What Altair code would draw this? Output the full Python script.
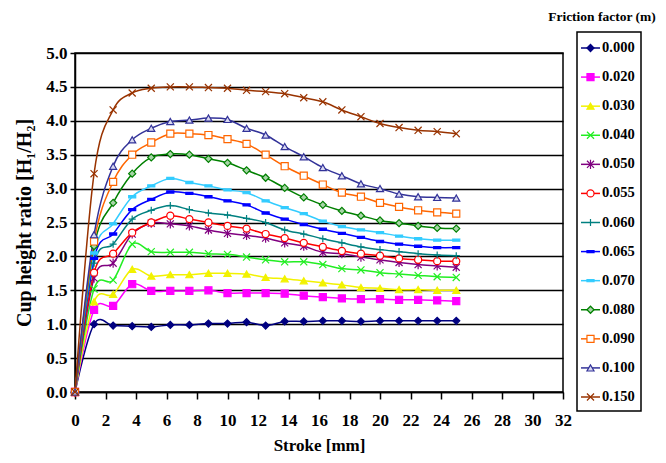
import altair as alt
import pandas as pd

stroke_mm = [0, 1.25, 2.5, 3.75, 5, 6.25, 7.5, 8.75, 10, 11.25, 12.5,
             13.75, 15, 16.25, 17.5, 18.75, 20, 21.25, 22.5, 23.75, 25]

friction = ["0.000", "0.020", "0.030", "0.040", "0.050", "0.055", "0.060",
            "0.065", "0.070", "0.080", "0.090", "0.100", "0.150"]

r_000 = [0, 1.00, 0.98, 0.97, 0.96, 0.99, 0.99, 1.01, 1.01, 1.03, 0.98,
         1.04, 1.04, 1.05, 1.05, 1.04, 1.05, 1.05, 1.05, 1.05, 1.05]
r_020 = [0, 1.21, 1.27, 1.59, 1.49, 1.49, 1.49, 1.50, 1.46, 1.46, 1.46,
         1.45, 1.42, 1.40, 1.38, 1.37, 1.37, 1.36, 1.36, 1.35, 1.34]
r_030 = [0, 1.33, 1.44, 1.81, 1.71, 1.73, 1.73, 1.75, 1.75, 1.74, 1.69,
         1.67, 1.64, 1.61, 1.58, 1.54, 1.53, 1.51, 1.51, 1.50, 1.50]
r_040 = [0, 1.52, 1.65, 2.18, 2.07, 2.06, 2.06, 2.04, 2.03, 1.99, 1.95,
         1.92, 1.92, 1.88, 1.82, 1.80, 1.76, 1.74, 1.72, 1.70, 1.69]
r_050 = [0, 1.68, 1.90, 2.33, 2.49, 2.48, 2.45, 2.39, 2.34, 2.31, 2.27,
         2.20, 2.15, 2.06, 2.04, 1.99, 1.95, 1.91, 1.88, 1.86, 1.84]
r_055 = [0, 1.76, 2.04, 2.35, 2.50, 2.60, 2.55, 2.50, 2.45, 2.41, 2.33,
         2.27, 2.20, 2.14, 2.08, 2.04, 2.01, 1.97, 1.95, 1.93, 1.93]
r_060 = [0, 1.90, 2.18, 2.55, 2.68, 2.75, 2.69, 2.64, 2.61, 2.56, 2.50,
         2.39, 2.33, 2.26, 2.20, 2.14, 2.10, 2.07, 2.04, 2.02, 2.01]
r_065 = [0, 1.97, 2.33, 2.69, 2.84, 2.95, 2.93, 2.88, 2.82, 2.76, 2.64,
         2.55, 2.47, 2.40, 2.34, 2.28, 2.22, 2.18, 2.15, 2.13, 2.13]
r_070 = [0, 2.05, 2.48, 2.88, 3.04, 3.15, 3.09, 3.04, 2.98, 2.94, 2.82,
         2.72, 2.63, 2.52, 2.44, 2.39, 2.35, 2.30, 2.26, 2.24, 2.24]
r_080 = [0, 2.15, 2.79, 3.22, 3.46, 3.51, 3.50, 3.44, 3.38, 3.27, 3.16,
         3.01, 2.87, 2.76, 2.67, 2.60, 2.53, 2.49, 2.45, 2.42, 2.41]
r_090 = [0, 2.22, 3.10, 3.50, 3.68, 3.81, 3.81, 3.79, 3.73, 3.66, 3.50,
         3.33, 3.19, 3.06, 2.94, 2.88, 2.79, 2.73, 2.68, 2.65, 2.63]
r_100 = [0, 2.32, 3.33, 3.72, 3.89, 3.99, 4.01, 4.04, 4.02, 3.89, 3.79,
         3.62, 3.47, 3.31, 3.19, 3.07, 3.00, 2.92, 2.88, 2.87, 2.86]
r_150 = [0, 3.22, 4.16, 4.41, 4.48, 4.50, 4.50, 4.49, 4.48, 4.45, 4.43,
         4.40, 4.34, 4.28, 4.16, 4.06, 3.96, 3.90, 3.86, 3.84, 3.81]

series = [r_000, r_020, r_030, r_040, r_050, r_055, r_060,
          r_065, r_070, r_080, r_090, r_100, r_150]

x_ticks = list(range(0, 33, 2))
y_ticks = [0, 0.5, 1.0, 1.5, 2.0, 2.5, 3.0, 3.5, 4.0, 4.5, 5.0]

line_colors = ["#000080", "#FF00FF", "#F2F200", "#22EE22", "#800080", "#FF0000",
               "#008080", "#0000FF", "#33CCFF", "#008000", "#FF6600", "#333399",
               "#993300"]
X_PATH = "M-1,-1L1,1M-1,1L1,-1"
STAR_PATH = "M-1,-1L1,1M-1,1L1,-1M0,-1.3L0,1.3"
PLUS_PATH = "M-1,0L1,0M0,-1L0,1"
DASH_PATH = "M-1,-0.3L1,-0.3L1,0.3L-1,0.3Z"
marker_shapes = ["diamond", "square", "triangle-up", X_PATH, STAR_PATH, "circle",
                 PLUS_PATH, DASH_PATH, DASH_PATH, "diamond", "square",
                 "triangle-up", X_PATH]
marker_fills = ["#000080", "#FF00FF", "#F2F200", "transparent", "transparent",
                "white", "transparent", "#0000FF", "#33CCFF", "#a8d4a8",
                "white", "#d8d8f0", "transparent"]
marker_sizes = [50, 50, 55, 45, 50, 50, 60, 32, 32, 50, 55, 55, 50]

rows = []
for m, vals in zip(friction, series):
    for xv, yv in zip(stroke_mm, vals):
        rows.append({"stroke": xv, "ratio": yv, "m": m})
df = pd.DataFrame(rows)
legend_df = pd.DataFrame({"m": friction})

FONT = "'Liberation Serif', 'Times New Roman', 'DejaVu Serif', serif"
color_scale = alt.Scale(domain=friction, range=line_colors)


def x_enc():
    return alt.X("stroke:Q", scale=alt.Scale(domain=[0, 32], nice=False),
                 axis=alt.Axis(values=x_ticks, title="Stroke [mm]", grid=False,
                               tickSize=7, labelPadding=13, titlePadding=9,
                               labelFontSize=17, titleFontSize=17,
                               labelOverlap=False, labelFlush=False))


def y_enc():
    return alt.Y("ratio:Q", scale=alt.Scale(domain=[0, 5], nice=False),
                 axis=alt.Axis(values=y_ticks, format=".1f",
                               title="Cup height ratio [H\u2081/H\u2082]",
                               grid=True, tickSize=5, labelPadding=3,
                               titlePadding=11, labelFontSize=17,
                               titleFontSize=20, labelOverlap=False,
                               labelFlush=False))


lines = alt.Chart(df).mark_line(interpolate="cardinal", strokeWidth=1.5).encode(
    x=x_enc(), y=y_enc(),
    color=alt.Color("m:N", scale=color_scale, legend=None),
)
points = alt.Chart(df).mark_point(filled=False, strokeWidth=1.2, opacity=1).encode(
    x=x_enc(), y=y_enc(),
    shape=alt.Shape("m:N", scale=alt.Scale(domain=friction, range=marker_shapes), legend=None),
    stroke=alt.Stroke("m:N", scale=color_scale, legend=None),
    fill=alt.Fill("m:N", scale=alt.Scale(domain=friction, range=marker_fills), legend=None),
    size=alt.Size("m:N", scale=alt.Scale(domain=friction, range=marker_sizes), legend=None),
)
main = alt.layer(lines, points)

leg_y = alt.Y("m:N", scale=alt.Scale(type="point", domain=friction, range=[-5, 344], padding=0),
              axis=None)
leg_box = alt.Chart(pd.DataFrame({"a": [0]})).mark_rect(
    fill="white", stroke="black", strokeWidth=1.5).encode(
    x=alt.value(502), x2=alt.value(566), y=alt.value(-21), y2=alt.value(358))
leg_rule = alt.Chart(legend_df).mark_rule(strokeWidth=1.5).encode(
    x=alt.value(506), x2=alt.value(525), y=leg_y,
    color=alt.Color("m:N", scale=color_scale, legend=None))
leg_pts = alt.Chart(legend_df).mark_point(filled=False, strokeWidth=1.2, opacity=1).encode(
    x=alt.value(515.5), y=leg_y,
    shape=alt.Shape("m:N", scale=alt.Scale(domain=friction, range=marker_shapes), legend=None),
    stroke=alt.Stroke("m:N", scale=color_scale, legend=None),
    fill=alt.Fill("m:N", scale=alt.Scale(domain=friction, range=marker_fills), legend=None),
    size=alt.Size("m:N", scale=alt.Scale(domain=friction, range=marker_sizes), legend=None),
)
leg_txt = alt.Chart(legend_df).mark_text(
    align="left", baseline="middle", font=FONT, fontWeight="bold", fontSize=14.5,
    color="black").encode(x=alt.value(527), y=leg_y, text="m:N")
leg_title = alt.Chart(pd.DataFrame({"t": ["Friction factor (m)"]})).mark_text(
    align="center", baseline="middle", font=FONT, fontWeight="bold", fontSize=13.5,
    color="black").encode(x=alt.value(527), y=alt.value(-36), text="t:N")
legend = alt.layer(leg_box, leg_rule, leg_pts, leg_txt, leg_title)

chart = alt.layer(main, legend).resolve_scale(y="independent").properties(
    width=488, height=339,
    autosize=alt.AutoSizeParams(type="none"),
    padding={"left": 67, "top": 45, "right": 95, "bottom": 63},
).configure_view(stroke="black", strokeWidth=1.5).configure_axis(
    domainColor="black", domainWidth=1.5, tickColor="black", tickWidth=1.5,
    gridColor="black", gridWidth=1.5, gridOpacity=1,
    labelFont=FONT, labelFontWeight="bold", labelColor="black",
    titleFont=FONT, titleFontWeight="bold", titleColor="black",
)

chart.save("out.html", embed_options={"renderer": "svg", "actions": False})
